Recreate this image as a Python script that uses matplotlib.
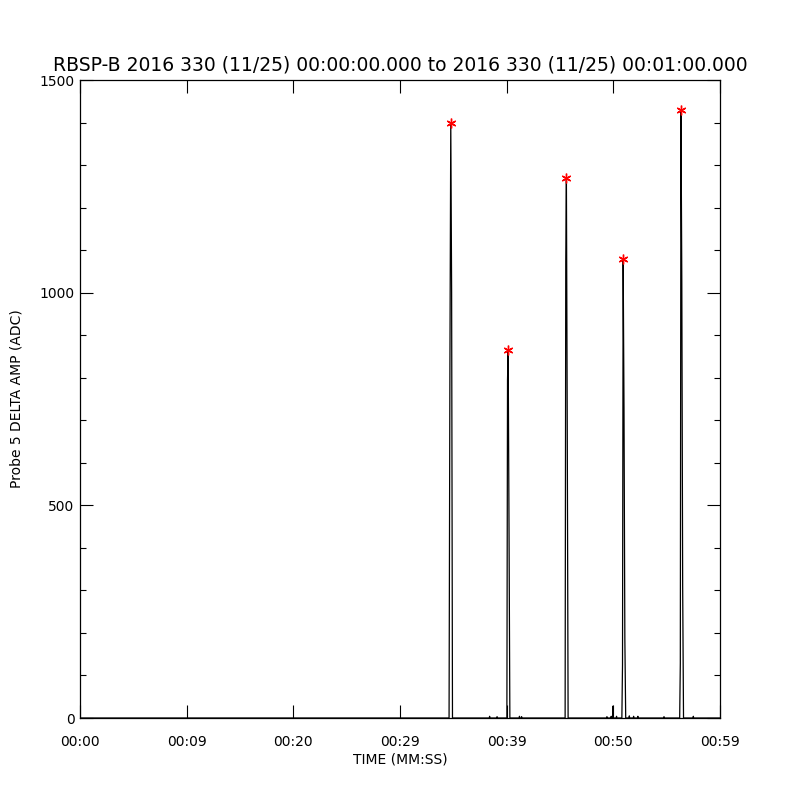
import matplotlib
matplotlib.use("Agg")
import matplotlib.pyplot as plt
import numpy as np

# samples for each burst (seconds after 00:00:00, ADC counts)
burst_times = [
    [34.60, 34.68, 34.76, 34.84, 34.92],
    [40.02, 40.08, 40.14, 40.22, 40.30],
    [45.48, 45.54, 45.60, 45.68, 45.76],
    [50.80, 50.86, 50.92, 51.00, 51.08, 51.16],
    [56.22, 56.28, 56.34, 56.42, 56.50, 56.58],
]
burst_values = [
    [0, 830, 1400, 1000, 0],
    [0, 795, 865, 449, 0],
    [0, 1074, 1270, 679, 0],
    [0, 125, 1079, 729, 186, 0],
    [0, 129, 1429, 1025, 310, 0],
]
# small background blips near zero
blip_times = [38.40, 39.10, 41.20, 41.40, 49.40, 49.80, 49.97, 50.30, 51.50, 51.90, 52.30, 54.75, 57.50]
blip_values = [4, 3, 4, 3, 3, 4, 28, 4, 5, 4, 4, 3, 4]

tick_pos = [0, 10, 20, 30, 40, 50, 60]
tick_labels = ["00:00", "00:09", "00:20", "00:29", "00:39", "00:50", "00:59"]

title = "RBSP-B 2016 330 (11/25) 00:00:00.000 to 2016 330 (11/25) 00:01:00.000"

# build one continuous series
pts = [(0.0, 0.0), (60.0, 0.0)]
for bt, bv in zip(burst_times, burst_values):
    pts += list(zip(bt, bv))
for t, v in zip(blip_times, blip_values):
    pts += [(t - 0.03, 0), (t, v), (t + 0.03, 0)]
pts.sort(key=lambda p: p[0])
t_all = np.array([p[0] for p in pts])
v_all = np.array([p[1] for p in pts])

peak_t = [bt[int(np.argmax(bv))] for bt, bv in zip(burst_times, burst_values)]
peak_v = [max(bv) for bv in burst_values]

fig = plt.figure(figsize=(8, 8), dpi=100)
ax = fig.add_axes([0.1, 0.1025, 0.8, 0.7975])
ax.plot(t_all, v_all, color='black', linewidth=0.9)
ax.plot(peak_t, peak_v, linestyle='none', marker=(6, 2, 0), markersize=7,
        color='red', markeredgewidth=1.0)

ax.set_xlim(0, 60)
ax.set_ylim(0, 1500)
ax.set_xticks(tick_pos)
ax.set_xticklabels(tick_labels)
ax.set_yticks([0, 500, 1000, 1500])
ax.set_yticks(np.arange(0, 1501, 100), minor=True)
ax.tick_params(axis='both', which='major', direction='in', length=9.5, width=0.8,
               top=True, right=True, labelsize=10)
ax.tick_params(axis='x', which='major', pad=12)
ax.tick_params(axis='y', which='major', pad=4)
ax.tick_params(axis='y', which='minor', direction='in', length=4.5, width=0.8,
               right=True, left=True)
ax.tick_params(axis='x', which='minor', bottom=False, top=False)
for s in ax.spines.values():
    s.set_linewidth(0.9)

ax.set_xlabel("TIME (MM:SS)", fontsize=10, labelpad=3)
ax.set_ylabel("Probe 5 DELTA AMP (ADC)", fontsize=10)
ax.yaxis.set_label_coords(-0.088, 0.5)
ax.set_title(title, fontsize=13.5, pad=7)

fig.savefig("out.png", dpi=100, facecolor='white')
